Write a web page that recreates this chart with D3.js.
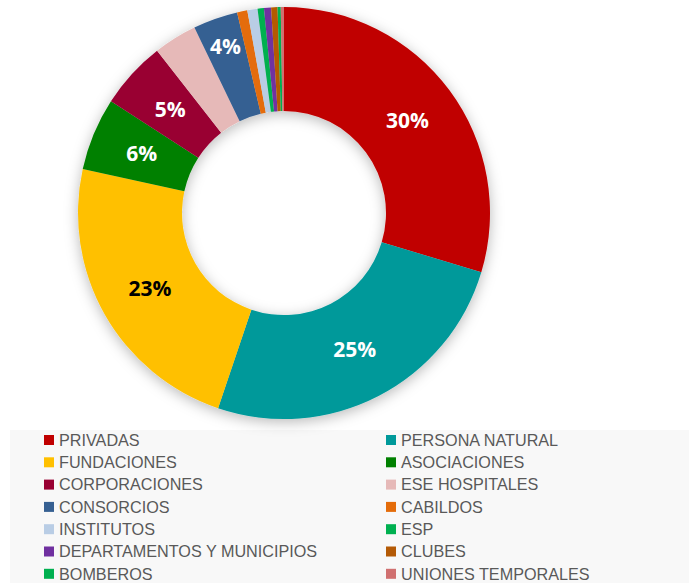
<!DOCTYPE html>
<html>
<head>
<meta charset="utf-8">
<script src="https://cdn.jsdelivr.net/npm/d3@7"></script>
<style>
  body { margin: 0; background: #fff; }
</style>
</head>
<body>
<div id="chart-holder"></div>
<script>
// categories in the order the slices are drawn (clockwise from 12 o'clock)
var categories = ["PRIVADAS", "PERSONA NATURAL", "FUNDACIONES", "ASOCIACIONES",
  "CORPORACIONES", "ESE HOSPITALES", "CONSORCIOS", "CABILDOS", "INSTITUTOS", "ESP",
  "DEPARTAMENTOS Y MUNICIPIOS", "CLUBES", "BOMBEROS", "UNIONES TEMPORALES"];
// share of each category, in percent
var shares = [29.6, 25.5, 23.2, 5.7, 5.3, 3.4, 3.5, 0.8, 0.8, 0.5, 0.55, 0.5, 0.25, 0.25];
// data labels shown on the slices ("" = no label)
var labels = ["30%", "25%", "23%", "6%", "5%", "", "4%", "", "", "", "", "", "", ""];
var colors = ["#C00000", "#00999A", "#FFC000", "#008000", "#990033", "#E6B9B8",
  "#366092", "#E46C0A", "#B9CDE5", "#00B050", "#7030A0", "#B45A06", "#00B050", "#D07070"];
var labelColors = ["#fff", "#fff", "#000", "#fff", "#fff", "#fff", "#fff"];

var width = 689, height = 583;
var cx = 284, cy = 213, outerR = 206, innerR = 102;

var svg = d3.select("#chart-holder").append("svg")
  .attr("width", width)
  .attr("height", height);

// soft shadow round the ring
var defs = svg.append("defs");
var shadow = defs.append("filter")
  .attr("id", "ringShadow")
  .attr("x", "-20%").attr("y", "-20%")
  .attr("width", "140%").attr("height", "140%");
shadow.append("feDropShadow")
  .attr("dx", 0).attr("dy", 3)
  .attr("stdDeviation", 7)
  .attr("flood-color", "#000")
  .attr("flood-opacity", 0.28);

// legend background
svg.append("rect")
  .attr("x", 10)
  .attr("y", 430)
  .attr("width", width - 10)
  .attr("height", height - 430)
  .attr("fill", "#F8F8F8");

var data = categories.map(function (c, i) {
  return { name: c, value: shares[i], label: labels[i], color: colors[i], idx: i };
});

var pie = d3.pie()
  .sort(null)
  .value(function (d) { return d.value; });

var arc = d3.arc()
  .innerRadius(innerR)
  .outerRadius(outerR);

var g = svg.append("g")
  .attr("transform", "translate(" + cx + "," + cy + ")");

g.append("g")
  .attr("filter", "url(#ringShadow)")
  .selectAll("path")
  .data(pie(data))
  .enter()
  .append("path")
  .attr("d", arc)
  .attr("fill", function (d) { return d.data.color; });

// percentage labels, mostly at the middle of the ring;
// the thin CONSORCIOS slice has its label pushed outwards
function labelPos(d) {
  var r = d.data.idx === 6 ? 176 : (innerR + outerR) / 2;
  var a = (d.startAngle + d.endAngle) / 2;
  return [Math.sin(a) * r, -Math.cos(a) * r];
}

g.selectAll("text.pct")
  .data(pie(data).filter(function (d) { return d.data.label !== ""; }))
  .enter()
  .append("text")
  .attr("class", "pct")
  .attr("x", function (d) { return labelPos(d)[0]; })
  .attr("y", function (d) { return labelPos(d)[1]; })
  .attr("dy", "0.35em")
  .attr("text-anchor", "middle")
  .style("font-family", "'Open Sans', sans-serif")
  .style("font-weight", "bold")
  .style("font-size", "21px")
  .style("fill", function (d) { return labelColors[d.data.idx]; })
  .text(function (d) { return d.data.label; });

// legend: two columns, row-major
var legendX = [44, 386], legendY0 = 440, rowH = 22.3;
var legend = svg.append("g")
  .selectAll("g")
  .data(data)
  .enter()
  .append("g")
  .attr("transform", function (d, i) {
    return "translate(" + legendX[i % 2] + "," + (legendY0 + Math.floor(i / 2) * rowH) + ")";
  });

legend.append("rect")
  .attr("x", 0)
  .attr("y", -5)
  .attr("width", 10)
  .attr("height", 10)
  .attr("fill", function (d) { return d.color; });

legend.append("text")
  .attr("x", 15)
  .attr("y", 0)
  .attr("dy", "0.36em")
  .style("font-family", "'Liberation Sans Narrow', 'Arial Narrow', sans-serif")
  .style("font-size", "16.2px")
  .style("fill", "#595959")
  .text(function (d) { return d.name; });
</script>
</body>
</html>
